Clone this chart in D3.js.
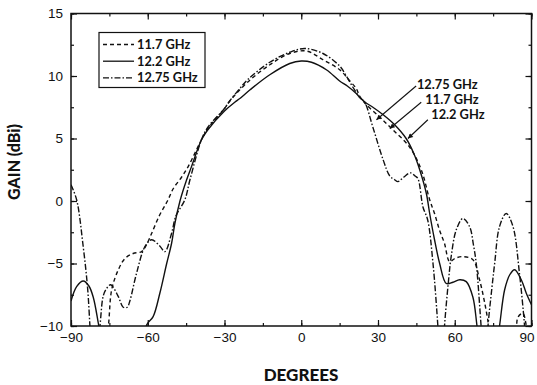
<!DOCTYPE html>
<html><head><meta charset="utf-8">
<script src="https://cdn.jsdelivr.net/npm/d3@7/dist/d3.min.js"></script>
<style>body{margin:0;background:#fff}</style>
</head><body><svg id="c" width="537" height="385"></svg>
<script>
// ---- data ----
const seriesNames = ["11.7 GHz", "12.2 GHz", "12.75 GHz"];
const xTicks = [-90, -60, -30, 0, 30, 60, 90];
const yTicks = [-10, -5, 0, 5, 10, 15];

const ang117 = [-77, -75.4, -74.1, -71.5, -68.9, -65.7, -62.4, -60.5, -58.5, -55.3, -52.3, -50, -46.8, -44.2, -39, -36.5, -30, -27.9, -21, -12.3, -4.5, 2, 8.5, 15, 19, 21.5, 22.8, 25, 30.7, 35.8, 42.4, 46.9, 50.2, 52.1, 54, 56, 58, 60, 63.2, 67.1, 69.7, 72.9, 74.5, 83, 84.7, 86.6, 88, 89.5];
const gain117 = [-12, -10, -7.1, -5.5, -4.6, -4.2, -4.05, -3.5, -2.6, -1.1, 0, 1.0, 1.9, 2.75, 4.9, 5.8, 7.4, 8.0, 9.5, 10.9, 11.8, 12.0, 11.3, 10.5, 9.6, 9.0, 8.4, 7.8, 6.7, 5.7, 4.3, 2.5, 0.1, -1, -2.3, -3.4, -4.85, -4.6, -4.45, -4.7, -6.3, -9.5, -12, -12, -9.3, -9.0, -10, -12];

const ang122 = [-90, -87.8, -85.2, -83, -81.3, -79.3, -77.5, -62, -60.4, -57.9, -55.3, -52.6, -50.7, -49.4, -47.4, -44.8, -42.9, -39, -36.5, -30, -26, -24, -20, -12.3, -4.5, 0, 4, 9.8, 15, 18, 21.5, 22.8, 25, 28, 32, 36.5, 41, 44, 46.3, 48.9, 50.2, 52, 54.1, 56.7, 59.3, 61.9, 64.5, 67.1, 68.7, 70, 76, 77.5, 79.5, 81.5, 83.4, 86, 88, 90];
const gain122 = [-8.0, -6.85, -6.4, -6.8, -7.7, -9.8, -12, -12, -9.9, -9.25, -7.4, -5, -3.4, -1.8, 0, 1.7, 2.75, 4.9, 5.7, 7.2, 7.9, 8.2, 8.9, 10.1, 11.0, 11.2, 11.1, 10.5, 9.6, 9.2, 8.6, 8.3, 7.9, 7.5, 6.9, 6.1, 5.0, 3.8, 2.5, 0.6, -1, -3, -5, -6.6, -6.5, -6.3, -6.45, -7.7, -10, -12, -12, -10, -7.1, -5.9, -5.5, -6.3, -7.4, -8.3];

const ang1275 = [-90, -87.8, -85.2, -83.5, -82.6, -82, -80, -78.7, -77.4, -76.1, -74.5, -71.5, -69.6, -68, -67, -64.4, -61.1, -58.5, -55.3, -53.3, -50.7, -49, -45.5, -43.5, -39, -36.5, -30, -28, -24, -21, -12.3, -4.5, 1.4, 8.5, 15, 17.6, 20.2, 22.8, 24.8, 28, 32, 34.6, 36.5, 37.8, 40, 42.7, 44.5, 45.6, 47.6, 49.4, 51.5, 53.4, 54, 55.5, 56, 57.5, 58.6, 60.6, 63.2, 65.8, 67.3, 68.4, 70.3, 71, 72.5, 73, 74.5, 75.6, 77.5, 80.1, 82.7, 85.3, 87.3, 88];
const gain1275 = [1.3, 0.1, -3.7, -7, -10, -12, -12, -10, -7.6, -7.0, -6.7, -7.65, -8.5, -8.5, -8.0, -5.8, -3.65, -3.1, -3.6, -4.05, -2.6, -1.2, 0.1, 1.7, 4.9, 5.9, 7.4, 8.0, 9.0, 9.7, 11.1, 11.9, 12.2, 11.8, 10.8, 10.0, 9.1, 8.3, 7.9, 5.9, 3.3, 2.0, 1.7, 1.55, 1.9, 2.25, 2.0, 1.8, -0.5, -1.5, -5, -10, -12, -12, -10, -6.5, -4.45, -2.3, -1.4, -2.05, -3.5, -5, -10, -12, -12, -10, -7, -5, -2.05, -1, -2, -5.8, -10, -12];

// ---- layout ----
const L = 71, R = 531.5, T = 13.5, B = 326;
const svg = d3.select("#c");
const x = d3.scaleLinear().domain([-90, 90]).range([L, R]);
const y = d3.scaleLinear().domain([-10, 15]).range([B, T]);

const tickFont = "'Liberation Sans', Arial, sans-serif";
const boldFont = "Lato, 'DejaVu Sans', sans-serif";

const defs = svg.append("defs");
defs.append("clipPath").attr("id", "plot")
  .append("rect").attr("x", L).attr("y", T).attr("width", R - L).attr("height", B - T);
const marker = defs.append("marker")
  .attr("id", "ah").attr("viewBox", "0 0 10 10").attr("refX", 10).attr("refY", 5)
  .attr("markerWidth", 7).attr("markerHeight", 5).attr("markerUnits", "userSpaceOnUse")
  .attr("orient", "auto");
marker.append("path").attr("d", "M0,0 L10,5 L0,10 Z").attr("fill", "#111");

// ---- axes ----
const minorX = d3.range(-90, 91, 15);
const minorY = d3.range(-10, 15.1, 2.5);
function styleAxis(g) {
  g.select(".domain").remove();
  g.selectAll("line").attr("stroke", "#111").attr("stroke-width", 1.2);
}
svg.append("g").attr("transform", `translate(0,${B})`)
  .call(d3.axisBottom(x).tickValues(minorX).tickSize(-3).tickFormat(""))
  .call(styleAxis);
const gxb = svg.append("g").attr("transform", `translate(0,${B})`)
  .call(d3.axisBottom(x).tickValues(xTicks).tickSize(-6).tickPadding(6).tickFormat(d3.format("d")))
  .call(styleAxis);
gxb.selectAll("text").attr("font-family", tickFont).attr("font-size", 13.5).attr("fill", "#111")
  .attr("dx", d => d === 90 ? -5 : 0);
svg.append("g").attr("transform", `translate(0,${T})`)
  .call(d3.axisTop(x).tickValues(minorX).tickSize(-3).tickFormat(""))
  .call(styleAxis);
svg.append("g").attr("transform", `translate(0,${T})`)
  .call(d3.axisTop(x).tickValues(xTicks).tickSize(-6).tickFormat(""))
  .call(styleAxis);
svg.append("g").attr("transform", `translate(${L},0)`)
  .call(d3.axisLeft(y).tickValues(minorY).tickSize(-3).tickFormat(""))
  .call(styleAxis);
const gyl = svg.append("g").attr("transform", `translate(${L},0)`)
  .call(d3.axisLeft(y).tickValues(yTicks).tickSize(-6).tickPadding(8).tickFormat(d3.format("d")))
  .call(styleAxis);
gyl.selectAll("text").attr("font-family", tickFont).attr("font-size", 13.5).attr("fill", "#111");
svg.append("g").attr("transform", `translate(${R},0)`)
  .call(d3.axisRight(y).tickValues(minorY).tickSize(-3).tickFormat(""))
  .call(styleAxis);
svg.append("g").attr("transform", `translate(${R},0)`)
  .call(d3.axisRight(y).tickValues(yTicks).tickSize(-6).tickFormat(""))
  .call(styleAxis);

svg.append("rect").attr("x", L).attr("y", T).attr("width", R - L).attr("height", B - T)
  .attr("fill", "none").attr("stroke", "#111").attr("stroke-width", 1.5);

// axis titles
svg.append("text").attr("x", 301).attr("y", 381).attr("text-anchor", "middle")
  .attr("font-family", boldFont).attr("font-weight", "900").attr("font-size", 17)
  .attr("fill", "#111").text("DEGREES");
svg.append("text").attr("transform", "translate(20,162) rotate(-90)").attr("text-anchor", "middle")
  .attr("font-family", boldFont).attr("font-weight", "900").attr("font-size", 16)
  .attr("fill", "#111").text("GAIN (dBi)");

// ---- series ----
const dashes = {"11.7 GHz": "4,3", "12.2 GHz": null, "12.75 GHz": "6,2,1.5,2"};
const data = {
  "11.7 GHz": d3.zip(ang117, gain117),
  "12.2 GHz": d3.zip(ang122, gain122),
  "12.75 GHz": d3.zip(ang1275, gain1275)
};
const line = d3.line().x(d => x(d[0])).y(d => y(d[1])).curve(d3.curveCatmullRom.alpha(0.5));
const gLines = svg.append("g").attr("clip-path", "url(#plot)");
seriesNames.forEach(name => {
  gLines.append("path").datum(data[name]).attr("d", line)
    .attr("fill", "none").attr("stroke", "#111").attr("stroke-width", 1.4)
    .attr("stroke-dasharray", dashes[name]);
});

// ---- legend ----
const lg = svg.append("g");
lg.append("rect").attr("x", 99).attr("y", 32.5).attr("width", 106).attr("height", 55)
  .attr("fill", "#fff").attr("stroke", "#111").attr("stroke-width", 1.2);
seriesNames.forEach((name, i) => {
  const yy = 44.5 + i * 16.7;
  lg.append("line").attr("x1", 103).attr("x2", 134).attr("y1", yy).attr("y2", yy)
    .attr("stroke", "#111").attr("stroke-width", 1.3).attr("stroke-dasharray", dashes[name]);
  lg.append("text").attr("x", 137).attr("y", yy + 4.5)
    .attr("font-family", boldFont).attr("font-weight", "bold").attr("font-size", 12.8)
    .attr("fill", "#111").text(name);
});

// ---- annotations (data coordinates) ----
const notes = [
  {name: "12.75 GHz", tx: 45.2, ty: 9.0, sx: 44.9, sy: 9.2, ex: 29.4, ey: 6.5},
  {name: "11.7 GHz", tx: 48.5, ty: 7.8, sx: 46.9, sy: 7.9, ex: 34.6, ey: 5.8},
  {name: "12.2 GHz", tx: 50.8, ty: 6.6, sx: 49.5, sy: 6.5, ex: 41.7, ey: 5.0}
];
notes.forEach(n => {
  svg.append("line").attr("x1", x(n.sx)).attr("y1", y(n.sy))
    .attr("x2", x(n.ex)).attr("y2", y(n.ey))
    .attr("stroke", "#111").attr("stroke-width", 1.1).attr("marker-end", "url(#ah)");
  svg.append("text").attr("x", x(n.tx)).attr("y", y(n.ty))
    .attr("font-family", boldFont).attr("font-weight", "bold").attr("font-size", 12.8)
    .attr("fill", "#111").text(n.name);
});
</script></body></html>
